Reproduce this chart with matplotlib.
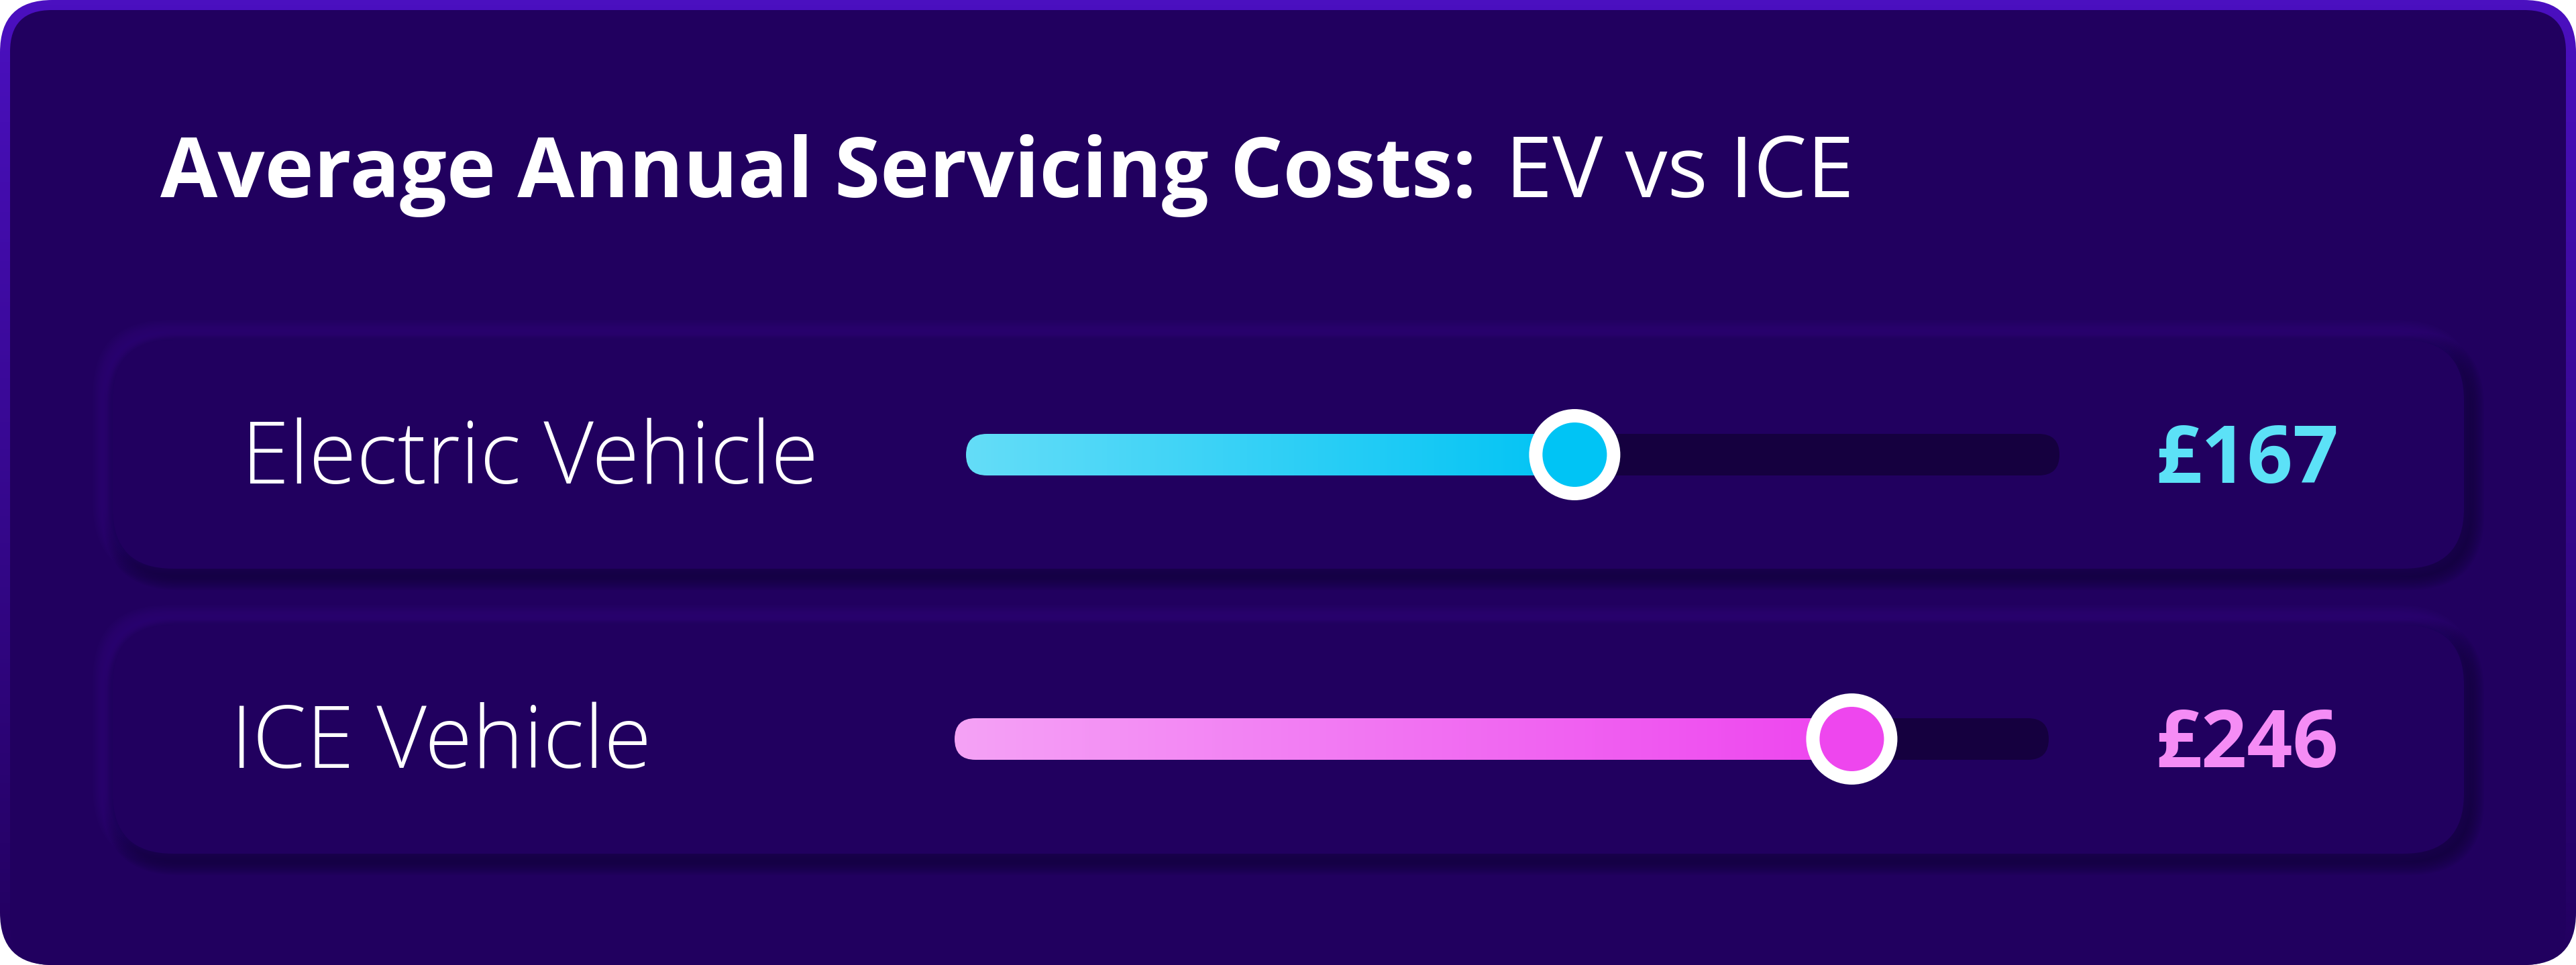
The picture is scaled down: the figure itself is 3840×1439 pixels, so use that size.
import numpy as np
import matplotlib
matplotlib.use("Agg")
from matplotlib import pyplot as plt
from matplotlib.patches import FancyBboxPatch, Circle
from matplotlib.colors import LinearSegmentedColormap

# data
categories = ["Electric Vehicle", "ICE Vehicle"]
costs = [167, 246]
value_labels = ["£167", "£246"]
scale_max = 300
title_bold = "Average Annual Servicing Costs:"
title_light = " EV vs ICE"

# styles
W, H = 3840, 1439
BG = "#21005f"
BORDER_TOP = "#4b10c0"
BORDER_BOTTOM = "#22005f"
TRACK = "#15003f"
fill_cols = [("#64ddf8", "#00c3f4"), ("#f5a2f6", "#ee44ef")]
knob_cols = ["#00c4f5", "#ee46ee"]
value_cols = ["#5ce1f7", "#f58cf5"]
row_tops = [507, 932]
row_h = 341
track_left = [1440, 1423]
track_right = [3070, 3054]
row_cy = [678, 1102]

plt.rcParams['font.family'] = ['Open Sans', 'DejaVu Sans']

fig = plt.figure(figsize=(W / 100, H / 100), dpi=100, facecolor="white")
ax = fig.add_axes([0, 0, 1, 1])
ax.set_xlim(0, W)
ax.set_ylim(H, 0)
ax.axis("off")


def rounded(x, y, w, h, r, **kw):
    p = FancyBboxPatch((x + r, y + r), w - 2 * r, h - 2 * r,
                       boxstyle=f"round,pad={r}", **kw)
    ax.add_patch(p)
    return p


def gradient(x0, x1, y0, y1, c0, c1, clip, vertical=False, z=1):
    cmap = LinearSegmentedColormap.from_list("g", [c0, c1])
    g = np.linspace(0, 1, 256)
    img = g.reshape(-1, 1) if vertical else g.reshape(1, -1)
    im = ax.imshow(img, cmap=cmap, extent=(x0, x1, y1, y0),
                   aspect="auto", zorder=z, interpolation="bicubic")
    im.set_clip_path(clip)
    ax.set_xlim(0, W)
    ax.set_ylim(H, 0)
    return im


# outer card with gradient border
outer = rounded(0, 0, W, H, 78, facecolor="none", edgecolor="none", zorder=0)
gradient(0, W, 0, H, BORDER_TOP, BORDER_BOTTOM, outer, vertical=True, z=0)
rounded(15, 15, W - 30, H - 15, 62, facecolor=BG, edgecolor="none", zorder=1)

# rows: soft neumorphic panels
for i in range(len(categories)):
    top = row_tops[i]
    x, w = 168, 3673 - 168
    for k in range(10):
        pad = 22 * (1 - k / 10)
        rounded(x - 8 - pad, top - 8 - pad, w + 2 * pad, row_h + 2 * pad, 90 + pad,
                facecolor="#3a1490", edgecolor="none", alpha=0.05, zorder=2)
        rounded(x + 8 - pad, top + 10 - pad, w + 2 * pad, row_h + 2 * pad, 90 + pad,
                facecolor="#0d0030", edgecolor="none", alpha=0.07, zorder=2)
    rounded(x, top, w, row_h, 90, facecolor=BG, edgecolor="none", zorder=3)

    cy = row_cy[i]
    th = 62
    x0, x1 = track_left[i], track_right[i]
    rounded(x0, cy - th / 2, x1 - x0, th, th / 2, facecolor=TRACK, edgecolor="none", zorder=4)
    xv = x0 + (x1 - x0) * costs[i] / scale_max
    clip = rounded(x0, cy - th / 2, xv - x0, th, th / 2, facecolor="none", edgecolor="none", zorder=5)
    gradient(x0, xv, cy - th / 2, cy + th / 2, fill_cols[i][0], fill_cols[i][1], clip, z=5)

    ax.add_patch(Circle((xv, cy), 68, facecolor="white", edgecolor="none", zorder=6))
    ax.add_patch(Circle((xv, cy), 48, facecolor=knob_cols[i], edgecolor="none", zorder=7))

    ax.text([360, 344][i], cy + 43, categories[i], color="white", fontsize=93, fontweight=300,
            ha="left", va="baseline", zorder=8)
    ax.text(3350, cy + 42, value_labels[i], color=value_cols[i], fontsize=86, fontweight="bold",
            ha="center", va="baseline", zorder=8)

# title in two weights
t1 = ax.text(239, 294, title_bold, color="white", fontsize=89, fontweight="bold",
             ha="left", va="baseline", zorder=8)
fig.canvas.draw()
bb = t1.get_window_extent(renderer=fig.canvas.get_renderer())
x_end = ax.transData.inverted().transform((bb.x1, bb.y0))[0]
ax.text(x_end + 10, 294, title_light, color="white", fontsize=91, fontweight="normal",
        ha="left", va="baseline", zorder=8)

fig.savefig("out.png", dpi=100, facecolor="white")
